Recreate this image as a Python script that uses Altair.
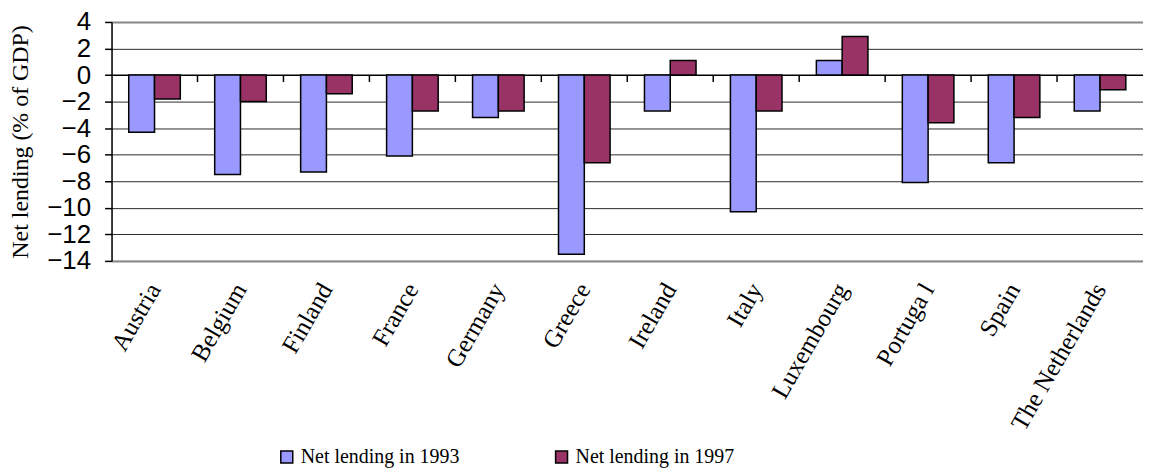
import altair as alt
import pandas as pd

countries = ["Austria", "Belgium", "Finland", "France", "Germany", "Greece",
             "Ireland", "Italy", "Luxembourg", "Portuga l", "Spain", "The Netherlands"]
lending_1993 = [-4.3, -7.5, -7.3, -6.1, -3.2, -13.5, -2.7, -10.3, 1.1, -8.1, -6.6, -2.7]
lending_1997 = [-1.8, -2.0, -1.4, -2.7, -2.7, -6.6, 1.1, -2.7, 2.9, -3.6, -3.2, -1.1]
series_names = ["Net lending in 1993", "Net lending in 1997"]
series_colors = ["#9999FF", "#993366"]
y_ticks = [-14, -12, -10, -8, -6, -4, -2, 0, 2, 4]
y_min, y_max = -14, 4

rows = []
for c, a, b in zip(countries, lending_1993, lending_1997):
    rows.append({"country": c, "series": series_names[0], "value": a})
    rows.append({"country": c, "series": series_names[1], "value": b})
df = pd.DataFrame(rows)

# category boundary ticks on the zero line (before every category but the first)
tick_df = pd.DataFrame({"country": countries[1:], "value": [0] * (len(countries) - 1)})

W, H = 1036, 240
STEP = W / len(countries)
P_INNER, P_OUTER = 0.4, 0.2
x_scale = alt.Scale(paddingInner=P_INNER, paddingOuter=P_OUTER)
y_scale = alt.Scale(domain=[y_min, y_max], nice=False, zero=True)

grid_color = {"condition": [{"test": "datum.value == 4", "value": "#888888"},
                            {"test": "datum.value == 0", "value": "#000000"}],
              "value": "#2a2a2a"}
grid_width = {"condition": [{"test": "datum.value == 4", "value": 2},
                            {"test": "datum.value == 0", "value": 1.5}],
              "value": 1}

x_axis = alt.Axis(orient="bottom", title=None, labelAngle=-60,
                  labelFont="Liberation Serif", labelFontSize=25,
                  labelColor="black", labelPadding=24, ticks=False,
                  domainColor="#888888", domainWidth=2,
                  labelAlign="right", labelBaseline="middle", grid=False)
y_axis = alt.Axis(values=y_ticks, title="Net lending (% of GDP)",
                  titleFont="Liberation Serif", titleFontSize=24,
                  titleFontWeight="normal", titleColor="black",
                  titlePadding=14,
                  labelFont="Liberation Sans", labelFontSize=26,
                  labelColor="black", labelPadding=14,
                  tickSize=7, tickColor="black", tickWidth=1.5,
                  domainColor="black", domainWidth=1.5,
                  grid=True, gridColor=grid_color, gridWidth=grid_width)

bars = alt.Chart(df).mark_bar(stroke="black", strokeWidth=1.5).encode(
    x=alt.X("country:N", sort=countries, scale=x_scale, axis=x_axis),
    xOffset=alt.XOffset("series:N", sort=series_names),
    y=alt.Y("value:Q", scale=y_scale, axis=y_axis),
    color=alt.Color("series:N", scale=alt.Scale(domain=series_names, range=series_colors),
                    legend=alt.Legend(title=None, orient="none", legendX=166, legendY=427,
                                      direction="horizontal", symbolType="square",
                                      symbolSize=144, symbolStrokeColor="black",
                                      symbolStrokeWidth=1.5, symbolOpacity=1,
                                      labelFont="Liberation Serif", labelFontSize=20,
                                      labelColor="black", labelOffset=4,
                                      columnPadding=92)),
)

# small downward tick marks on the zero line, drawn as a custom point shape
# (a vertical stroke from the symbol centre downwards)
ticks = alt.Chart(tick_df).mark_point(shape="M0,0L0,1", size=196, filled=False,
                                      color="black", strokeWidth=1.5, opacity=1,
                                      xOffset=-P_OUTER * STEP).encode(
    x=alt.X("country:N", sort=countries, scale=x_scale, axis=x_axis, bandPosition=0),
    y=alt.Y("value:Q", scale=y_scale, axis=y_axis),
)

chart = alt.layer(bars, ticks).properties(
    width=W, height=H,
    padding={"left": 0, "top": 0, "right": 0, "bottom": 0},
).configure_view(stroke=None).configure(background="white")

chart.save("out.html", embed_options={"renderer": "svg", "actions": False})
